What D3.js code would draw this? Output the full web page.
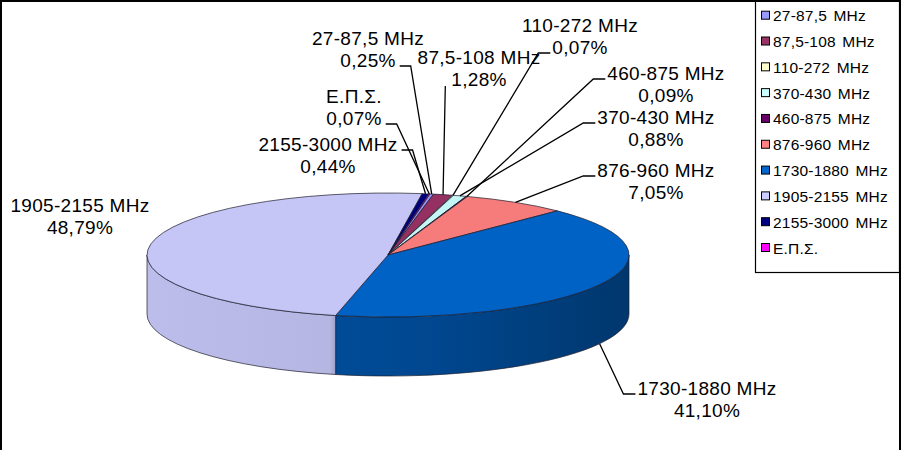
<!DOCTYPE html>
<html><head><meta charset="utf-8">
<script src="https://cdn.jsdelivr.net/npm/d3@7"></script>
<style>body{margin:0;background:#fff}svg{display:block}</style>
</head><body><svg id="c" width="902" height="450"></svg>
<script>
// ---- data ----
const categories = ["27-87,5 MHz","87,5-108 MHz","110-272 MHz","370-430 MHz","460-875 MHz","876-960 MHz","1730-1880 MHz","1905-2155 MHz","2155-3000 MHz","Ε.Π.Σ."];
const values = [0.25,1.28,0.07,0.88,0.09,7.05,41.10,48.79,0.44,0.07];
const colors = ["#9999FF","#993366","#FFFFCC","#CCFFFF","#660066","#FF8080","#0066CC","#CCCCFF","#000080","#FF00FF"];
// ---- label layout (center x, first-line center y, leader style) ----
const labelLayout = [
  {x:368, y:38,  side:"left",  line:1},
  {x:479, y:57,  side:"below", line:1},
  {x:580, y:25,  side:"right", line:1},
  {x:656, y:117, side:"right", line:0},
  {x:666, y:73,  side:"right", line:0},
  {x:656, y:170, side:"right", line:0},
  {x:707, y:388, side:"right", line:0},
  {x:80,  y:205, side:"none",  line:0},
  {x:328, y:144, side:"left",  line:0},
  {x:354, y:96,  side:"left",  line:1}
];

const svg = d3.select("#c");
const W = 902, H = 450;
const cx = 388, cy = 255, rx = 241, ry = 62, depth = 59;
const startDeg = 10;
const font = "'Liberation Sans', Arial, sans-serif";
const fmt = v => d3.format(".2f")(v).replace(".", ",") + "%";

const pie = d3.pie().sort(null).value(d => d.v)
  .startAngle(startDeg * Math.PI / 180).endAngle(startDeg * Math.PI / 180 + 2 * Math.PI);
const data = categories.map((c, i) => ({c, v: values[i], col: colors[i], lay: labelLayout[i]}));
const arcs = pie(data);

const pt = (a, dy = 0) => [cx + rx * Math.sin(a), cy - ry * Math.cos(a) + dy];

// side lighting: light on the left part, strongly shaded on the right part
const shadeStops = [[0, 0.22], [0.38, 0.32], [0.395, 0.85], [0.6, 1.0], [1, 1.75]];
const defs = svg.append("defs");
arcs.forEach((d, i) => {
  const g = defs.append("linearGradient").attr("id", "side" + i)
    .attr("gradientUnits", "userSpaceOnUse")
    .attr("x1", cx - rx).attr("x2", cx + rx).attr("y1", 0).attr("y2", 0);
  const c = d3.color(d.data.col);
  shadeStops.forEach(([o, k]) => g.append("stop").attr("offset", o).attr("stop-color", c.darker(k)));
});

// sides (front half only)
const pieG = svg.append("g");
arcs.forEach((d, i) => {
  const s0 = Math.max(d.startAngle, Math.PI / 2), s1 = Math.min(d.endAngle, 3 * Math.PI / 2);
  if (s1 <= s0) return;
  const p0 = pt(s0), p1 = pt(s1), q1 = pt(s1, depth), q0 = pt(s0, depth);
  const large = (s1 - s0) > Math.PI ? 1 : 0;
  const p = `M${p0}A${rx},${ry} 0 ${large} 1 ${p1}L${q1}A${rx},${ry} 0 ${large} 0 ${q0}Z`;
  pieG.append("path").attr("d", p).attr("fill", `url(#side${i})`)
    .attr("stroke", "#1c1c2c").attr("stroke-width", 0.7).attr("stroke-linejoin", "round");
});
// top faces
arcs.forEach((d, i) => {
  const p0 = pt(d.startAngle), p1 = pt(d.endAngle);
  const large = (d.endAngle - d.startAngle) > Math.PI ? 1 : 0;
  const p = `M${cx},${cy}L${p0}A${rx},${ry} 0 ${large} 1 ${p1}Z`;
  pieG.append("path").attr("d", p).attr("fill", d3.color(d.data.col).darker(0.1))
    .attr("stroke", "#1c1c2c").attr("stroke-width", 0.7).attr("stroke-linejoin", "round");
});

// labels + leaders
const lblG = svg.append("g").attr("font-family", font).attr("font-size", 19)
  .attr("letter-spacing", "0.3px").attr("fill", "#000");
const lineGap = 22;
arcs.forEach((d, i) => {
  const L = d.data.lay;
  const lines = [d.data.c, fmt(d.data.v)];
  const texts = lines.map((t, k) => lblG.append("text")
    .attr("x", L.x).attr("y", L.y + k * lineGap + 7)
    .attr("text-anchor", "middle").text(t));
  if (L.side === "none") return;
  const mid = (d.startAngle + d.endAngle) / 2;
  const anchor = pt(mid, Math.cos(mid) < 0 ? depth : 0);
  const bb = texts[L.line].node().getBBox();
  const ly = L.y + L.line * lineGap;
  let pts;
  if (L.side === "right") {
    const ax = bb.x - 2;
    pts = [[ax, ly + 6], [ax - 12, ly + 6], anchor];
  } else if (L.side === "left") {
    const ax = bb.x + bb.width + 4;
    pts = [[ax, ly + 6], [ax + 11, ly + 6], anchor];
  } else {
    pts = [[bb.x - 6, ly + 7], anchor];
  }
  svg.append("path").attr("d", d3.line()(pts)).attr("fill", "none")
    .attr("stroke", "#000").attr("stroke-width", 1.3);
});

// legend
const lg = svg.append("g").attr("font-family", font).attr("font-size", 15.5)
  .attr("letter-spacing", "0.2px").attr("word-spacing", "2px");
lg.append("rect").attr("x", 755.5).attr("y", 1).attr("width", 144).attr("height", 271.5)
  .attr("fill", "#fff").attr("stroke", "#000").attr("stroke-width", 1.2);
const rowY = d3.scalePoint().domain(categories).range([15.7, 248]);
categories.forEach((c, i) => {
  const y = rowY(c);
  lg.append("rect").attr("x", 761.5).attr("y", y - 4.5).attr("width", 8).attr("height", 8)
    .attr("fill", colors[i]).attr("stroke", "#000").attr("stroke-width", 1);
  lg.append("text").attr("x", 773).attr("y", y + 5.5).attr("fill", "#000").text(c);
});

// outer frame (left, top, right)
svg.append("path").attr("d", `M1,${H}L1,1L900,1L900,${H}`).attr("fill", "none")
  .attr("stroke", "#000").attr("stroke-width", 2);
</script></body></html>
